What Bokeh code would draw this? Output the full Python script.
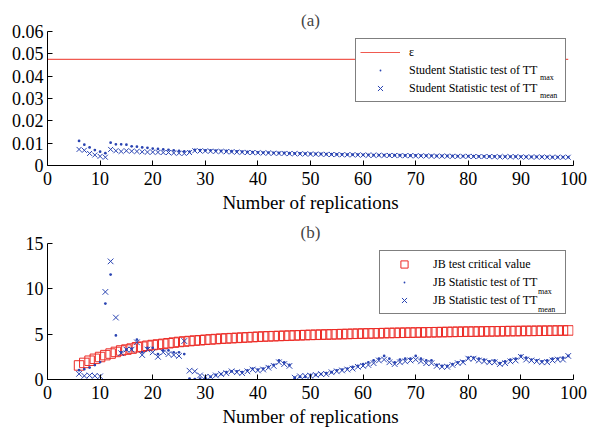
from bokeh.plotting import figure
from bokeh.layouts import column
from bokeh.models import Legend, LegendItem, FixedTicker, Range1d
from bokeh.embed import file_html
from bokeh.resources import INLINE

# ---------------- data ----------------
n_rep = list(range(6, 100))
x_ticks = [0, 10, 20, 30, 40, 50, 60, 70, 80, 90, 100]
ya_ticks = [0, 0.01, 0.02, 0.03, 0.04, 0.05, 0.06]
yb_ticks = [0, 5, 10, 15]

eps_x = [0, 99]
eps_y = [0.0475, 0.0475]

student_max = [
    0.0110, 0.0093, 0.0081, 0.0069, 0.0062, 0.0055, 0.0102, 0.0095, 0.0095, 0.0093,
    0.0086, 0.0084, 0.0081, 0.0079, 0.0076, 0.0074, 0.0072, 0.0070, 0.0068, 0.0066,
    0.0063, 0.0062, 0.0070, 0.0069, 0.0068, 0.0068, 0.0067, 0.0066, 0.0065, 0.0064,
    0.0063, 0.0062, 0.0061, 0.0060, 0.0059, 0.0058, 0.0058, 0.0057, 0.0056, 0.0056,
    0.0055, 0.0054, 0.0054, 0.0053, 0.0053, 0.0052, 0.0052, 0.0051, 0.0051, 0.0050,
    0.0050, 0.0049, 0.0049, 0.0049, 0.0048, 0.0048, 0.0047, 0.0047, 0.0047, 0.0046,
    0.0046, 0.0046, 0.0045, 0.0045, 0.0045, 0.0044, 0.0044, 0.0044, 0.0043, 0.0043,
    0.0043, 0.0043, 0.0042, 0.0042, 0.0042, 0.0042, 0.0041, 0.0041, 0.0041, 0.0041,
    0.0040, 0.0040, 0.0040, 0.0040, 0.0040, 0.0039, 0.0039, 0.0039, 0.0039, 0.0039,
    0.0038, 0.0038, 0.0038, 0.0038]

student_mean = [
    0.0072, 0.0068, 0.0054, 0.0047, 0.0041, 0.0037, 0.0072, 0.0066, 0.0063, 0.0066,
    0.0064, 0.0063, 0.0061, 0.0060, 0.0060, 0.0059, 0.0058, 0.0058, 0.0056, 0.0055,
    0.0054, 0.0058, 0.0066, 0.0065, 0.0065, 0.0064, 0.0063, 0.0063, 0.0062, 0.0061,
    0.0060, 0.0059, 0.0058, 0.0058, 0.0057, 0.0056, 0.0056, 0.0055, 0.0054, 0.0054,
    0.0053, 0.0053, 0.0052, 0.0052, 0.0051, 0.0051, 0.0050, 0.0050, 0.0049, 0.0049,
    0.0048, 0.0048, 0.0048, 0.0047, 0.0047, 0.0046, 0.0046, 0.0046, 0.0045, 0.0045,
    0.0045, 0.0044, 0.0044, 0.0044, 0.0043, 0.0043, 0.0043, 0.0042, 0.0042, 0.0042,
    0.0042, 0.0041, 0.0041, 0.0041, 0.0041, 0.0040, 0.0040, 0.0040, 0.0040, 0.0039,
    0.0039, 0.0039, 0.0039, 0.0039, 0.0038, 0.0038, 0.0038, 0.0038, 0.0038, 0.0037,
    0.0037, 0.0037, 0.0037, 0.0037]

jb_critical = [
    1.55, 1.83, 2.07, 2.28, 2.48, 2.69, 2.86, 3.04, 3.20, 3.30,
    3.41, 3.55, 3.62, 3.72, 3.80, 3.86, 3.93, 4.00, 4.07, 4.14,
    4.19, 4.24, 4.29, 4.33, 4.38, 4.42, 4.46, 4.50, 4.53, 4.56,
    4.59, 4.62, 4.65, 4.68, 4.71, 4.74, 4.76, 4.78, 4.80, 4.82,
    4.84, 4.86, 4.88, 4.90, 4.92, 4.93, 4.95, 4.96, 4.98, 4.99,
    5.01, 5.02, 5.04, 5.05, 5.07, 5.08, 5.09, 5.10, 5.12, 5.13,
    5.14, 5.15, 5.16, 5.17, 5.18, 5.19, 5.20, 5.21, 5.22, 5.23,
    5.24, 5.25, 5.26, 5.27, 5.28, 5.28, 5.29, 5.30, 5.31, 5.31,
    5.32, 5.33, 5.34, 5.34, 5.35, 5.36, 5.36, 5.37, 5.38, 5.38,
    5.39, 5.40, 5.40, 5.41]

jb_max = [
    1.03, 1.14, 1.31, 1.59, 1.93, 8.38, 11.58, 4.86, 3.0, 3.3,
    3.4, 4.4, 3.0, 3.5, 3.5, 2.8, 3.2, 3.2, 3.0, 3.0,
    2.8, 0.1, 0.05, 0.1, 0.15, 0.3, 0.5, 0.6, 0.8, 0.9,
    0.9, 0.8, 1.0, 1.2, 1.1, 1.2, 1.4, 1.6, 2.1, 1.9,
    1.6, 0.2, 0.3, 0.3, 0.5, 0.5, 0.6, 0.7, 0.8, 1.0,
    1.1, 1.2, 1.4, 1.5, 1.7, 1.9, 2.1, 2.3, 2.6, 2.3,
    1.9, 2.2, 2.3, 2.3, 2.6, 2.3, 2.1, 2.1, 1.6, 1.5,
    1.5, 1.7, 1.9, 2.0, 2.4, 2.4, 2.3, 2.2, 2.0, 2.1,
    1.8, 2.0, 2.2, 2.3, 2.6, 2.4, 2.2, 2.1, 2.0, 2.1,
    2.3, 2.3, 2.4, 2.6]

jb_mean = [
    0.62, 0.40, 0.45, 0.40, 0.35, 9.66, 13.03, 6.83, 2.9, 3.3,
    3.3, 4.1, 2.7, 3.3, 3.0, 2.5, 3.0, 2.8, 2.7, 2.6,
    4.24, 0.97, 0.90, 0.45, 0.28, 0.30, 0.45, 0.60, 0.70, 0.90,
    0.80, 0.70, 0.90, 1.10, 1.00, 1.10, 1.30, 1.50, 1.90, 1.70,
    1.50, 0.20, 0.35, 0.40, 0.40, 0.50, 0.60, 0.60, 0.80, 0.90,
    1.00, 1.10, 1.20, 1.40, 1.50, 1.60, 1.80, 2.10, 2.20, 1.90,
    1.70, 1.90, 2.00, 2.10, 2.20, 2.00, 1.80, 1.80, 1.50, 1.40,
    1.40, 1.60, 1.80, 1.90, 2.30, 2.30, 2.10, 2.00, 1.90, 1.90,
    1.70, 1.80, 2.00, 2.10, 2.50, 2.20, 2.10, 2.00, 1.90, 1.90,
    2.10, 2.20, 2.20, 2.60]

# ---------------- style ----------------
FONT = "Liberation Serif"
BLUE = "#2a44b2"
RED = "#ec2b26"
LRED = "#f05a50"


def make_fig(title, height, top, bottom, yr, yticks):
    p = figure(width=590, height=height, output_backend="svg", toolbar_location=None,
               x_range=Range1d(0, 100), y_range=Range1d(*yr),
               min_border_left=47, min_border_right=17,
               min_border_top=top, min_border_bottom=bottom)
    p.outline_line_color = None
    p.grid.visible = False
    p.background_fill_color = "white"
    p.title.text = title
    p.title.align = "center"
    p.title.text_font = FONT
    p.title.text_font_size = "17px"
    p.title.text_font_style = "normal"
    p.title.standoff = 4
    p.xaxis.ticker = FixedTicker(ticks=x_ticks)
    p.yaxis.ticker = FixedTicker(ticks=yticks)
    p.yaxis.major_label_overrides = {0: "0"}
    p.xaxis.axis_label = "Number of replications"
    for ax in (p.xaxis[0], p.yaxis[0]):
        ax.axis_line_color = "black"
        ax.major_tick_line_color = "black"
        ax.minor_tick_line_color = None
        ax.major_tick_in = 5
        ax.major_tick_out = 0
        ax.major_label_text_font = FONT
        ax.major_label_text_font_size = "18px"
        ax.major_label_text_color = "black"
        ax.axis_label_text_font = FONT
        ax.axis_label_text_font_size = "19px"
        ax.axis_label_text_font_style = "normal"
        ax.axis_label_text_color = "black"
    p.xaxis.major_label_standoff = 6
    p.yaxis.major_label_standoff = 4
    p.xaxis.axis_label_standoff = 4
    return p


def style_legend(leg, label_width):
    leg.location = "top_right"
    leg.margin = 7
    leg.padding = 4
    leg.spacing = 0
    leg.label_height = 18
    leg.glyph_height = 18
    leg.glyph_width = 40
    leg.label_width = label_width
    leg.label_standoff = 9
    leg.label_text_font = FONT
    leg.label_text_font_size = "12px"
    leg.label_text_color = "black"
    leg.border_line_color = "black"
    leg.border_line_width = 1
    leg.background_fill_alpha = 1.0


def add_subscripts(p, loc):
    # a transparent second legend that only carries the subscripts "max"/"mean"
    proxy = p.scatter(x=[], y=[], marker="dot", size=1, line_alpha=0, fill_alpha=0)
    leg = Legend(items=[LegendItem(label="max", renderers=[proxy]),
                        LegendItem(label="mean", renderers=[proxy])])
    leg.location = loc
    leg.margin = 0
    leg.padding = 0
    leg.spacing = 0
    leg.label_height = 18
    leg.glyph_height = 18
    leg.glyph_width = 1
    leg.label_standoff = 0
    leg.label_text_font = FONT
    leg.label_text_font_size = "8px"
    leg.label_text_color = "black"
    leg.border_line_color = None
    leg.background_fill_alpha = 0
    leg.inactive_fill_alpha = 0
    p.add_layout(leg)


# ---------------- panel (a) ----------------
pa = make_fig("(a)", 215, 31, 39, (0, 0.06), ya_ticks)
ra1 = pa.line(eps_x, eps_y, line_color=LRED, line_width=1.2)
ra2 = pa.scatter(n_rep, student_max, marker="dot", size=11, fill_color=BLUE,
                 line_color=BLUE)
ra3 = pa.scatter(n_rep, student_mean, marker="x", size=7, line_color=BLUE, line_width=1)
leg_a = Legend(items=[LegendItem(label="\u03b5", renderers=[ra1]),
                      LegendItem(label="Student Statistic test of TT", renderers=[ra2]),
                      LegendItem(label="Student Statistic test of TT", renderers=[ra3])])
style_legend(leg_a, 152)
pa.add_layout(leg_a)
add_subscripts(pa, (492, 61))

# ---------------- panel (b) ----------------
pb = make_fig("(b)", 214, 28, 41, (0, 15), yb_ticks)
rb1 = pb.scatter(n_rep, jb_critical, marker="square", size=9.5, fill_color=None,
                 line_color=RED, line_width=1)
rb2 = pb.scatter(n_rep, jb_max, marker="dot", size=11, fill_color=BLUE,
                 line_color=BLUE)
rb3 = pb.scatter(n_rep, jb_mean, marker="x", size=8, line_color=BLUE, line_width=1)
leg_b = Legend(items=[LegendItem(label="JB test critical value", renderers=[rb1]),
                      LegendItem(label="JB Statistic test of TT", renderers=[rb2]),
                      LegendItem(label="JB Statistic test of TT", renderers=[rb3])])
style_legend(leg_b, 128)
pb.add_layout(leg_b)
add_subscripts(pb, (490, 61))

layout = column(pa, pb, spacing=0)
open("out.html", "w").write(file_html(layout, INLINE))
